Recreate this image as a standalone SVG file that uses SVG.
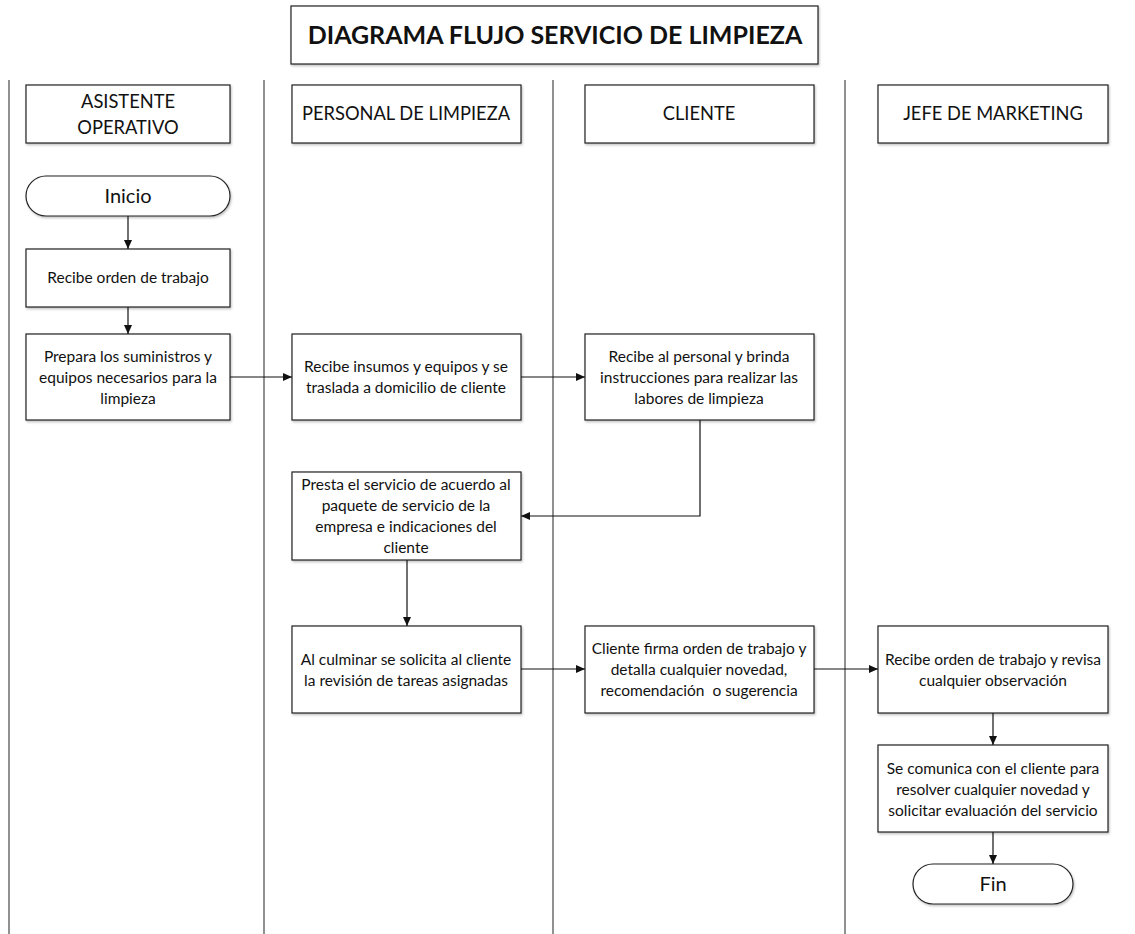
<svg xmlns="http://www.w3.org/2000/svg" width="1135" height="934" viewBox="0 0 1135 934">
<style>
  .box{fill:#fff;stroke:#222;stroke-width:1.2;filter:url(#sh)}
  .lane{stroke:#555;stroke-width:1.3}
  .t{font-family:Lato,"Open Sans",sans-serif;font-size:15.5px;fill:#111;text-anchor:middle}
  .h{font-family:Lato,"Open Sans",sans-serif;font-size:18.3px;fill:#111;text-anchor:middle}
  .term{font-family:Lato,"Open Sans",sans-serif;font-size:20px;fill:#111;text-anchor:middle}
  .title{font-family:Lato,"Open Sans",sans-serif;font-size:25px;font-weight:bold;fill:#111;text-anchor:middle}
  .c{fill:none;stroke:#111;stroke-width:1.2;marker-end:url(#ah)}
</style>
<defs>
  <marker id="ah" markerWidth="10" markerHeight="10" refX="9" refY="5" orient="auto" markerUnits="userSpaceOnUse">
    <path d="M0,1 L9,5 L0,9 Z" fill="#111"/>
  </marker>
  <filter id="sh" x="-5%" y="-5%" width="110%" height="115%">
    <feDropShadow dx="1" dy="1.5" stdDeviation="1" flood-color="#000" flood-opacity="0.25"/>
  </filter>
</defs>
<rect width="1135" height="934" fill="#fff"/>
<g id="title">
  <rect class="box" x="291" y="6" width="527" height="58"/>
  <text class="title" x="555" y="44">DIAGRAMA FLUJO SERVICIO DE LIMPIEZA</text>
</g>
<g id="lanes">
  <line class="lane" x1="9" y1="80" x2="9" y2="934"/>
  <line class="lane" x1="264" y1="80" x2="264" y2="934"/>
  <line class="lane" x1="553" y1="80" x2="553" y2="934"/>
  <line class="lane" x1="845" y1="80" x2="845" y2="934"/>
</g>
<g id="h1"><rect class="box" x="26" y="85" width="204" height="58"/><text class="h" x="128" y="108">ASISTENTE</text><text class="h" x="128" y="134">OPERATIVO</text></g>
<g id="h2"><rect class="box" x="292" y="85" width="229" height="58"/><text class="h" x="406" y="120">PERSONAL DE LIMPIEZA</text></g>
<g id="h3"><rect class="box" x="585" y="85" width="229" height="58"/><text class="h" x="699" y="120">CLIENTE</text></g>
<g id="h4"><rect class="box" x="878" y="85" width="230" height="58"/><text class="h" x="993" y="120">JEFE DE MARKETING</text></g>

<g id="connectors">
  <path class="c" d="M128,216 L128,249"/>
  <path class="c" d="M128,307 L128,334"/>
  <path class="c" d="M230,377 L292,377"/>
  <path class="c" d="M521,377 L585,377"/>
  <path class="c" d="M700,420 L700,516 L521,516"/>
  <path class="c" d="M407,560 L407,626"/>
  <path class="c" d="M521,669 L585,669"/>
  <path class="c" d="M814,669 L878,669"/>
  <path class="c" d="M993,713 L993,745"/>
  <path class="c" d="M993,832 L993,864"/>
</g>

<g id="inicio"><rect class="box" x="26" y="176" width="204" height="40" rx="20"/><text class="term" x="128" y="203">Inicio</text></g>
<g id="n1"><rect class="box" x="26" y="249" width="204" height="58"/><text class="t" x="128" y="283">Recibe orden de trabajo</text></g>
<g id="n2"><rect class="box" x="26" y="334" width="204" height="86"/><text class="t" x="128" y="362">Prepara los suministros y</text><text class="t" x="128" y="383">equipos necesarios para la</text><text class="t" x="128" y="404">limpieza</text></g>
<g id="n3"><rect class="box" x="292" y="334" width="229" height="86"/><text class="t" x="406" y="372">Recibe insumos y equipos y se</text><text class="t" x="406" y="393">traslada a domicilio de cliente</text></g>
<g id="n4"><rect class="box" x="585" y="334" width="229" height="86"/><text class="t" x="699" y="362">Recibe al personal y brinda</text><text class="t" x="699" y="383">instrucciones para realizar las</text><text class="t" x="699" y="404">labores de limpieza</text></g>
<g id="n5"><rect class="box" x="292" y="472" width="229" height="88"/><text class="t" x="406" y="490">Presta el servicio de acuerdo al</text><text class="t" x="406" y="511">paquete de servicio de la</text><text class="t" x="406" y="532">empresa e indicaciones del</text><text class="t" x="406" y="553">cliente</text></g>
<g id="n6"><rect class="box" x="292" y="626" width="229" height="87"/><text class="t" x="406" y="665">Al culminar se solicita al cliente</text><text class="t" x="406" y="686">la revisión de tareas asignadas</text></g>
<g id="n7"><rect class="box" x="585" y="626" width="229" height="87"/><text class="t" x="699" y="654">Cliente firma orden de trabajo y</text><text class="t" x="699" y="675">detalla cualquier novedad,</text><text class="t" x="699" y="696" xml:space="preserve">recomendación  o sugerencia</text></g>
<g id="n8"><rect class="box" x="878" y="626" width="230" height="87"/><text class="t" x="993" y="665">Recibe orden de trabajo y revisa</text><text class="t" x="993" y="686">cualquier observación</text></g>
<g id="n9"><rect class="box" x="878" y="745" width="230" height="87"/><text class="t" x="993" y="774">Se comunica con el cliente para</text><text class="t" x="993" y="795">resolver cualquier novedad y</text><text class="t" x="993" y="816">solicitar evaluación del servicio</text></g>
<g id="fin"><rect class="box" x="913" y="864" width="160" height="40" rx="20"/><text class="term" x="993" y="891">Fin</text></g>
</svg>
